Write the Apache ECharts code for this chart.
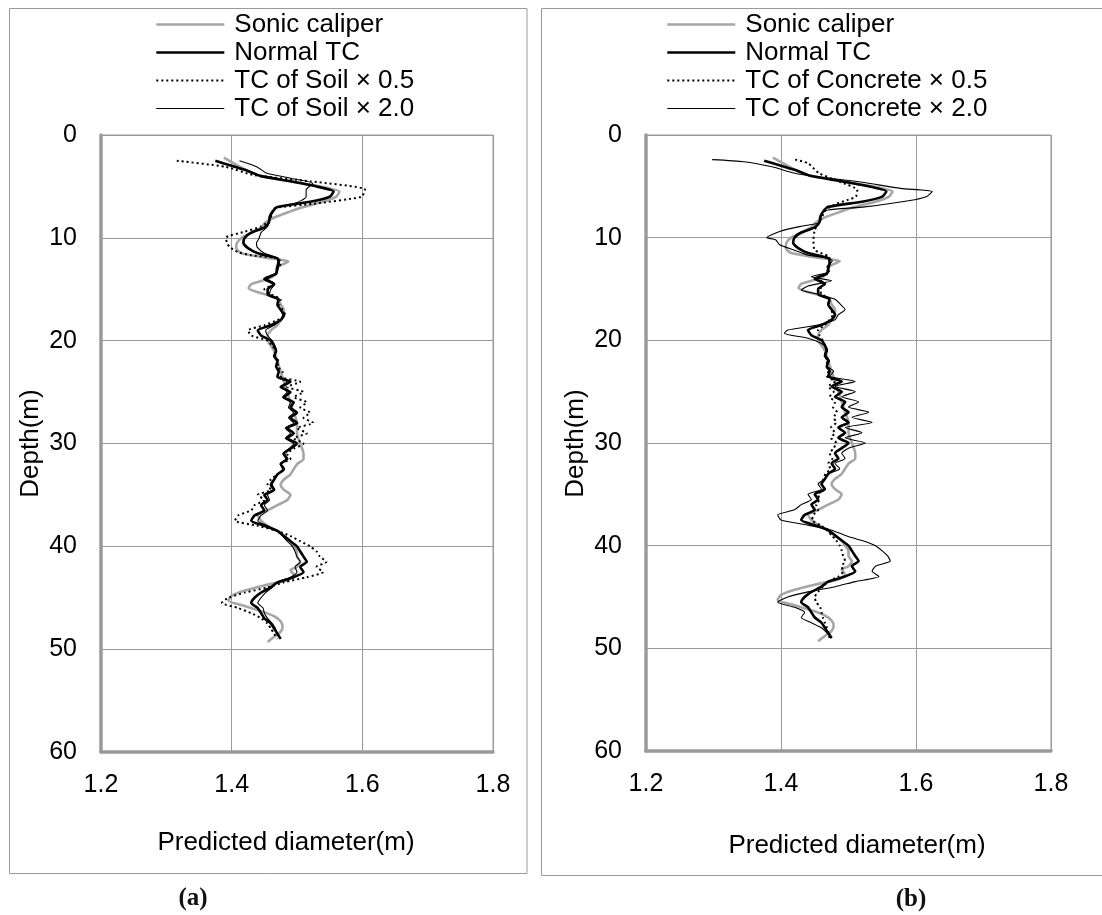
<!DOCTYPE html>
<html><head><meta charset="utf-8">
<script src="https://cdn.jsdelivr.net/npm/echarts@6/dist/echarts.min.js"></script>
<style>html,body{margin:0;padding:0;background:#fff}#c{width:1102px;height:915px}</style>
</head><body><div id="c"></div>
<script>
// [depth (m), diameter (m)]
const sonicCaliper = [[2.2,1.388],[3.0,1.41],[3.5,1.425],[4.0,1.445],[4.5,1.49],[5.0,1.535],[5.5,1.565],[6.0,1.56],[6.5,1.54],[7.0,1.51],[7.5,1.487],[8.0,1.466],[8.5,1.452],[9.0,1.445],[9.5,1.43],[10.0,1.415],[10.5,1.408],[11.0,1.407],[11.5,1.415],[11.9,1.45],[12.3,1.487],[12.8,1.471],[13.5,1.468],[14.0,1.455],[14.5,1.43],[14.9,1.426],[15.3,1.44],[15.9,1.471],[16.5,1.475],[17.0,1.48],[17.5,1.48],[18.0,1.475],[18.5,1.47],[19.0,1.46],[19.5,1.455],[20.0,1.455],[20.5,1.46],[21.0,1.465],[22.0,1.47],[23.0,1.475],[24.0,1.48],[25.0,1.485],[26.0,1.49],[27.0,1.495],[28.0,1.5],[29.0,1.5],[30.0,1.505],[31.0,1.51],[31.5,1.51],[32.0,1.5],[33.0,1.49],[33.5,1.48],[34.0,1.475],[34.5,1.48],[35.0,1.49],[35.5,1.485],[36.0,1.47],[36.5,1.455],[37.0,1.44],[37.5,1.445],[38.0,1.455],[38.5,1.47],[39.0,1.48],[39.5,1.49],[40.0,1.495],[40.5,1.5],[41.0,1.5],[41.5,1.505],[42.0,1.5],[42.3,1.49],[42.8,1.495],[43.3,1.485],[43.8,1.45],[44.3,1.42],[44.8,1.40],[45.3,1.395],[45.8,1.42],[46.3,1.445],[46.8,1.465],[47.3,1.475],[47.8,1.478],[48.3,1.475],[48.8,1.465],[49.3,1.455]];
const normalTC = [[2.5,1.375],[3.0,1.40],[3.5,1.425],[4.0,1.445],[4.5,1.49],[5.0,1.53],[5.5,1.556],[6.0,1.55],[6.5,1.52],[7.0,1.47],[7.5,1.462],[8.0,1.458],[8.5,1.457],[9.0,1.45],[9.5,1.43],[10.0,1.42],[10.5,1.418],[11.0,1.425],[11.5,1.44],[12.0,1.47],[12.5,1.472],[13.0,1.47],[13.5,1.468],[14.0,1.45],[14.5,1.465],[15.0,1.455],[15.5,1.455],[16.0,1.472],[16.5,1.47],[17.0,1.475],[17.5,1.48],[18.0,1.475],[18.5,1.46],[19.0,1.44],[19.5,1.445],[20.0,1.46],[20.5,1.465],[21.0,1.468],[21.5,1.465],[22.0,1.47],[22.5,1.468],[23.0,1.472],[23.5,1.47],[24.0,1.49],[24.5,1.475],[25.0,1.49],[25.5,1.48],[26.0,1.495],[26.5,1.49],[27.0,1.50],[27.5,1.49],[28.0,1.5],[28.5,1.485],[29.0,1.495],[29.5,1.485],[30.0,1.5],[30.5,1.49],[31.0,1.48],[31.5,1.485],[32.0,1.475],[32.5,1.48],[33.0,1.47],[33.5,1.465],[34.0,1.46],[34.5,1.465],[35.0,1.45],[35.5,1.455],[36.0,1.445],[36.5,1.45],[37.0,1.435],[37.5,1.43],[38.0,1.45],[38.5,1.47],[39.0,1.48],[39.5,1.49],[40.0,1.50],[40.5,1.505],[41.0,1.51],[41.5,1.515],[42.0,1.505],[42.5,1.51],[43.0,1.495],[43.5,1.47],[44.0,1.46],[44.5,1.445],[45.0,1.435],[45.5,1.43],[46.0,1.44],[46.5,1.445],[47.0,1.45],[47.5,1.46],[48.0,1.465],[48.5,1.47],[49.0,1.475]];
const soilHalf = [[2.5,1.316],[3.1,1.391],[3.9,1.434],[4.5,1.52],[5.3,1.604],[6.0,1.599],[6.7,1.524],[7.1,1.466],[7.6,1.462],[8.3,1.458],[8.9,1.445],[9.4,1.42],[10.0,1.391],[10.5,1.393],[10.9,1.397],[11.4,1.41],[11.7,1.43],[12.0,1.471],[12.5,1.475],[13.0,1.47],[13.5,1.468],[14.0,1.45],[14.5,1.465],[15.0,1.45],[15.5,1.46],[16.0,1.475],[16.5,1.473],[17.0,1.478],[17.5,1.482],[18.0,1.47],[18.5,1.45],[19.0,1.425],[19.5,1.43],[20.0,1.455],[20.5,1.462],[21.0,1.468],[21.5,1.465],[22.0,1.472],[22.5,1.47],[23.0,1.478],[23.5,1.475],[24.0,1.505],[24.5,1.485],[25.0,1.51],[25.5,1.495],[26.0,1.515],[26.5,1.505],[27.0,1.52],[27.5,1.51],[28.0,1.525],[28.5,1.5],[29.0,1.515],[29.5,1.495],[30.0,1.51],[30.5,1.495],[31.0,1.485],[31.5,1.49],[32.0,1.475],[32.5,1.48],[33.0,1.47],[33.5,1.46],[34.0,1.455],[34.5,1.46],[35.0,1.44],[35.5,1.45],[36.0,1.435],[36.5,1.43],[37.0,1.41],[37.5,1.405],[38.0,1.44],[38.5,1.47],[39.0,1.49],[39.5,1.505],[40.0,1.52],[40.5,1.53],[41.0,1.535],[41.5,1.545],[42.0,1.53],[42.5,1.54],[43.0,1.515],[43.5,1.48],[44.0,1.455],[44.5,1.42],[45.0,1.395],[45.5,1.385],[46.0,1.41],[46.5,1.43],[47.0,1.445],[47.5,1.455],[48.0,1.46],[48.5,1.465],[49.0,1.47]];
const soilDouble = [[2.5,1.412],[3.1,1.439],[3.7,1.453],[4.2,1.49],[4.7,1.524],[5.35,1.514],[6.0,1.514],[6.65,1.497],[7.1,1.466],[7.6,1.462],[8.3,1.458],[8.9,1.455],[9.5,1.445],[10.05,1.442],[10.5,1.438],[10.9,1.439],[11.5,1.45],[12.0,1.471],[12.5,1.47],[13.0,1.468],[13.5,1.468],[14.0,1.455],[14.5,1.466],[15.0,1.46],[15.5,1.458],[16.0,1.47],[16.5,1.47],[17.0,1.475],[17.5,1.478],[18.0,1.475],[18.5,1.465],[19.0,1.452],[19.5,1.455],[20.0,1.462],[20.5,1.466],[21.0,1.468],[21.5,1.466],[22.0,1.47],[22.5,1.468],[23.0,1.472],[23.5,1.47],[24.0,1.485],[24.5,1.475],[25.0,1.485],[25.5,1.478],[26.0,1.49],[26.5,1.487],[27.0,1.495],[27.5,1.487],[28.0,1.495],[28.5,1.482],[29.0,1.49],[29.5,1.482],[30.0,1.495],[30.5,1.488],[31.0,1.478],[31.5,1.483],[32.0,1.475],[32.5,1.478],[33.0,1.47],[33.5,1.466],[34.0,1.462],[34.5,1.466],[35.0,1.455],[35.5,1.458],[36.0,1.45],[36.5,1.455],[37.0,1.445],[37.5,1.44],[38.0,1.455],[38.5,1.47],[39.0,1.478],[39.5,1.485],[40.0,1.493],[40.5,1.497],[41.0,1.5],[41.5,1.505],[42.0,1.497],[42.5,1.5],[43.0,1.49],[43.5,1.47],[44.0,1.462],[44.5,1.452],[45.0,1.445],[45.5,1.44],[46.0,1.448],[46.5,1.45],[47.0,1.455],[47.5,1.462],[48.0,1.467],[48.5,1.47],[49.0,1.475]];
const concreteHalf = [[2.4,1.421],[2.75,1.44],[3.7,1.456],[4.55,1.487],[5.35,1.513],[6.0,1.511],[6.3,1.50],[6.7,1.482],[7.3,1.466],[7.95,1.461],[8.6,1.456],[9.25,1.45],[10.2,1.448],[11.2,1.45],[11.85,1.471],[12.5,1.472],[13.0,1.47],[13.5,1.468],[14.0,1.455],[14.5,1.465],[15.0,1.458],[15.5,1.46],[16.0,1.472],[16.5,1.47],[17.0,1.474],[17.5,1.477],[18.0,1.472],[18.5,1.465],[19.0,1.455],[19.5,1.457],[20.0,1.462],[20.5,1.465],[21.0,1.467],[21.5,1.465],[22.0,1.469],[22.5,1.467],[23.0,1.47],[23.5,1.468],[24.0,1.48],[24.5,1.47],[25.0,1.478],[25.5,1.472],[26.0,1.48],[26.5,1.477],[27.0,1.483],[27.5,1.478],[28.0,1.482],[28.5,1.474],[29.0,1.48],[29.5,1.474],[30.0,1.482],[30.5,1.478],[31.0,1.472],[31.5,1.476],[32.0,1.47],[32.5,1.473],[33.0,1.466],[33.5,1.463],[34.0,1.46],[34.5,1.463],[35.0,1.455],[35.5,1.457],[36.0,1.452],[36.5,1.455],[37.0,1.448],[37.5,1.446],[38.0,1.458],[38.5,1.468],[39.0,1.475],[39.5,1.482],[40.0,1.487],[40.5,1.49],[41.0,1.492],[41.5,1.495],[42.0,1.49],[42.5,1.492],[43.0,1.485],[43.5,1.47],[44.0,1.462],[44.5,1.455],[45.0,1.45],[45.5,1.452],[46.0,1.458],[46.5,1.46],[47.0,1.462],[47.5,1.465],[48.0,1.468],[48.5,1.47],[49.0,1.472]];
const concreteDouble = [[2.4,1.298],[2.6,1.345],[3.1,1.387],[3.7,1.419],[4.05,1.45],[4.6,1.52],[5.2,1.577],[5.5,1.624],[6.0,1.616],[6.3,1.598],[7.0,1.524],[7.3,1.47],[7.6,1.461],[8.3,1.458],[8.6,1.456],[8.9,1.429],[9.4,1.398],[10.0,1.379],[10.2,1.392],[10.7,1.398],[11.2,1.419],[11.7,1.44],[12.0,1.471],[12.3,1.476],[12.8,1.468],[13.3,1.472],[13.8,1.445],[14.2,1.475],[14.7,1.44],[15.1,1.43],[15.5,1.455],[16.0,1.48],[16.5,1.488],[17.0,1.495],[17.5,1.485],[18.0,1.48],[18.5,1.455],[19.0,1.41],[19.3,1.405],[19.8,1.44],[20.3,1.46],[20.8,1.468],[21.3,1.465],[22.0,1.472],[22.5,1.468],[23.0,1.478],[23.5,1.472],[24.0,1.51],[24.5,1.48],[25.0,1.51],[25.5,1.49],[26.0,1.515],[26.5,1.5],[27.0,1.53],[27.5,1.505],[28.0,1.535],[28.5,1.495],[29.0,1.52],[29.5,1.495],[30.0,1.525],[30.5,1.5],[31.0,1.49],[31.5,1.495],[32.0,1.48],[32.5,1.487],[33.0,1.47],[33.5,1.465],[34.0,1.455],[34.5,1.46],[35.0,1.44],[35.5,1.445],[36.0,1.43],[36.5,1.42],[37.0,1.395],[37.5,1.40],[38.0,1.44],[38.5,1.475],[39.0,1.495],[39.5,1.52],[40.0,1.54],[40.5,1.55],[41.0,1.558],[41.5,1.562],[42.0,1.54],[42.5,1.535],[43.0,1.545],[43.5,1.51],[44.0,1.48],[44.5,1.44],[45.0,1.41],[45.5,1.395],[46.0,1.42],[46.5,1.435],[47.0,1.43],[47.5,1.445],[48.0,1.46],[48.5,1.468],[49.0,1.475]];

const legendLeft = ['Sonic caliper', 'Normal TC', 'TC of Soil × 0.5', 'TC of Soil × 2.0'];
const legendRight = ['Sonic caliper', 'Normal TC', 'TC of Concrete × 0.5', 'TC of Concrete × 2.0'];
const xTicks = [1.2, 1.4, 1.6, 1.8];
const yTicks = [0, 10, 20, 30, 40, 50, 60];

const FONT = '"Liberation Sans", Arial, sans-serif';
const toXY = arr => arr.map(p => [p[1], p[0]]);

const styles = [
  {color: '#a6a6a6', width: 2.6, type: 'solid'},
  {color: '#000', width: 2.6, type: 'solid'},
  {color: '#000', width: 2, type: [2, 3]},
  {color: '#000', width: 1.1, type: 'solid'}
];

function mkSeries(name, data, st, idx) {
  return {
    type: 'line', name: name, data: toXY(data), xAxisIndex: idx, yAxisIndex: idx,
    symbol: 'none', showSymbol: false, smooth: 0.2,
    lineStyle: {color: st.color, width: st.width, type: st.type},
    itemStyle: {color: st.color},
    emphasis: {disabled: true}, z: 3
  };
}

function xAx(idx) {
  return {
    type: 'value', gridIndex: idx, min: 1.2, max: 1.8, interval: 0.2, position: 'bottom',
    axisLine: {show: true, onZero: false, lineStyle: {color: '#9a9a9a', width: 3.5}},
    axisTick: {show: false},
    axisLabel: {fontFamily: FONT, fontSize: 25, color: '#000', margin: 21,
      formatter: v => (xTicks.find(t => Math.abs(t - v) < 1e-6) || v).toFixed(1)},
    splitLine: {show: true, lineStyle: {color: '#9a9a9a', width: 1}}
  };
}
function yAx(idx) {
  return {
    type: 'value', gridIndex: idx, min: 0, max: 60, interval: 10, inverse: true,
    axisLine: {show: true, onZero: false, lineStyle: {color: '#9a9a9a', width: 3.5}},
    axisTick: {show: false},
    axisLabel: {fontFamily: FONT, fontSize: 25, color: '#000', margin: 24,
      formatter: v => String(yTicks.find(t => t === v) ?? v)},
    splitLine: {show: true, lineStyle: {color: '#9a9a9a', width: 1}}
  };
}
function legend(names, left) {
  return {
    data: names.map((n, i) => ({
      name: n,
      lineStyle: {color: styles[i].color, width: i === 3 ? 1 : styles[i].width, type: styles[i].type},
      itemStyle: {opacity: 0, borderWidth: 0}
    })),
    left: left, top: 10.5, orient: 'vertical', itemWidth: 68, itemHeight: 14,
    itemGap: 0, padding: 0, selectedMode: false,
    itemStyle: {opacity: 0, borderWidth: 0},
    textStyle: {fontFamily: FONT, fontSize: 26, color: '#000', lineHeight: 28, padding: [0, 0, 0, 5]}
  };
}

const chart = echarts.init(document.getElementById('c'), null, {renderer: 'canvas'});
chart.setOption({
  animation: false,
  backgroundColor: '#fff',
  grid: [
    {left: 101, top: 135, width: 392, height: 617, show: true, borderColor: '#9a9a9a', borderWidth: 1, backgroundColor: 'transparent'},
    {left: 646, top: 135, width: 405, height: 616, show: true, borderColor: '#9a9a9a', borderWidth: 1, backgroundColor: 'transparent'}
  ],
  xAxis: [xAx(0), xAx(1)],
  yAxis: [yAx(0), yAx(1)],
  legend: [legend(legendLeft, 155), legend(legendRight, 666)],
  series: [
    mkSeries(legendLeft[0], sonicCaliper, styles[0], 0),
    mkSeries(legendLeft[1], normalTC, styles[1], 0),
    mkSeries(legendLeft[2], soilHalf, styles[2], 0),
    mkSeries(legendLeft[3], soilDouble, styles[3], 0),
    mkSeries(legendRight[0], sonicCaliper, styles[0], 1),
    mkSeries(legendRight[1], normalTC, styles[1], 1),
    mkSeries(legendRight[2], concreteHalf, styles[2], 1),
    mkSeries(legendRight[3], concreteDouble, styles[3], 1)
  ],
  graphic: [
    {type: 'rect', shape: {x: 9.5, y: 8.5, width: 517.5, height: 865}, style: {fill: 'none', stroke: '#9a9a9a', lineWidth: 1}, z: -1, silent: true},
    {type: 'rect', shape: {x: 541.5, y: 8.5, width: 600, height: 867}, style: {fill: 'none', stroke: '#9a9a9a', lineWidth: 1}, z: -1, silent: true},
    {type: 'text', x: 31, y: 443.5, rotation: Math.PI / 2, style: {text: 'Depth(m)', font: '26px ' + FONT, fill: '#000', textAlign: 'center', textVerticalAlign: 'middle'}, silent: true},
    {type: 'text', x: 576, y: 443.5, rotation: Math.PI / 2, style: {text: 'Depth(m)', font: '26px ' + FONT, fill: '#000', textAlign: 'center', textVerticalAlign: 'middle'}, silent: true},
    {type: 'text', x: 286, y: 843, style: {text: 'Predicted diameter(m)', font: '26px ' + FONT, fill: '#000', textAlign: 'center', textVerticalAlign: 'middle'}, silent: true},
    {type: 'text', x: 857, y: 846, style: {text: 'Predicted diameter(m)', font: '26px ' + FONT, fill: '#000', textAlign: 'center', textVerticalAlign: 'middle'}, silent: true},
    {type: 'text', x: 193, y: 899, style: {text: '(a)', font: 'bold 25px "Liberation Serif", "DejaVu Serif", serif', fill: '#111', textAlign: 'center', textVerticalAlign: 'middle'}, silent: true},
    {type: 'text', x: 911, y: 900, style: {text: '(b)', font: 'bold 25px "Liberation Serif", "DejaVu Serif", serif', fill: '#111', textAlign: 'center', textVerticalAlign: 'middle'}, silent: true}
  ]
});
</script>
</body></html>
